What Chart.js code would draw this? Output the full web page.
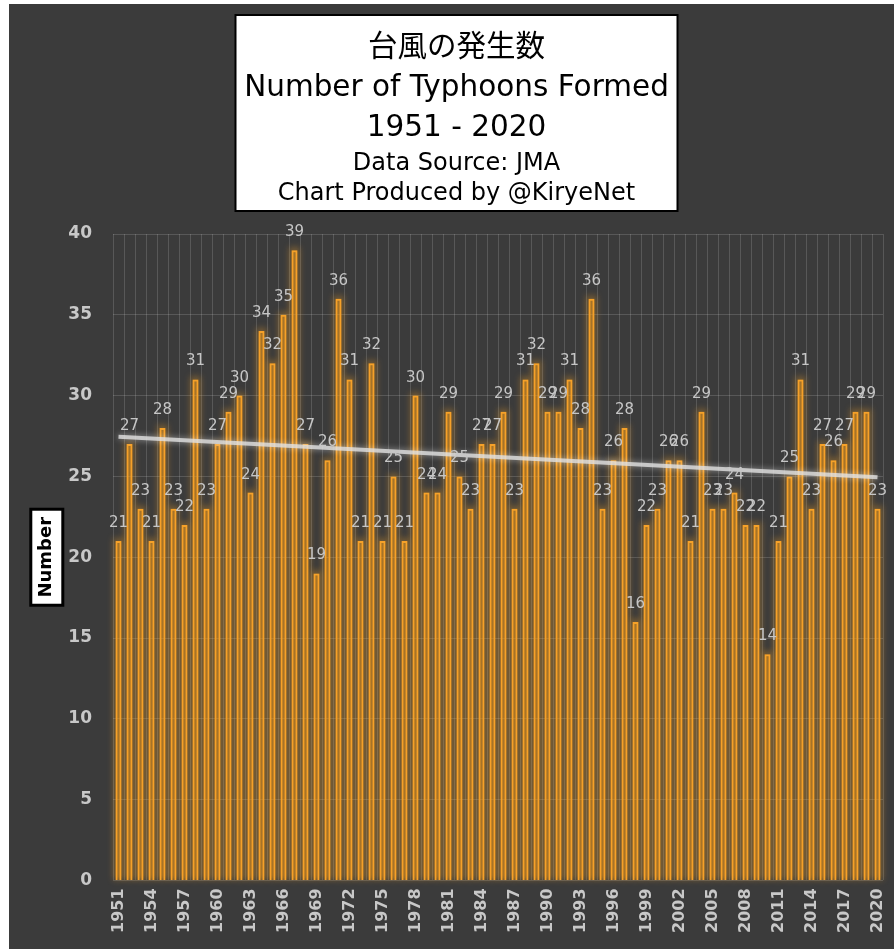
<!DOCTYPE html>
<html>
<head>
<meta charset="utf-8">
<script src="https://cdn.jsdelivr.net/npm/chart.js@4.4.1/dist/chart.umd.min.js"></script>
<style>
  html, body { margin: 0; padding: 0; background: #ffffff; }
  #wrap { position: absolute; left: 9px; top: 4px; width: 885px; height: 945px; background: #3b3b3b; }
  canvas { display: block; }
</style>
</head>
<body>
<div id="wrap"><canvas id="c" width="885" height="945"></canvas></div>
<script>
// ---- data ----
const years = [];
for (let y = 1951; y <= 2020; y++) years.push(String(y));
const typhoonCounts = [
  21, 27, 23, 21, 28, 23, 22, 31, 23, 27,
  29, 30, 24, 34, 32, 35, 39, 27, 19, 26,
  36, 31, 21, 32, 21, 25, 21, 30, 24, 24,
  29, 25, 23, 27, 27, 29, 23, 31, 32, 29,
  29, 31, 28, 36, 23, 26, 28, 16, 22, 23,
  26, 26, 21, 29, 23, 23, 24, 22, 22, 14,
  21, 25, 31, 23, 27, 26, 27, 29, 29, 23
];
// trend line end points (1951 and 2020)
const trendStart = 27.45;
const trendEnd = 24.95;
const trendValues = years.map((_, i) => i === 0 ? trendStart : (i === years.length - 1 ? trendEnd : null));
const yTicks = [0, 5, 10, 15, 20, 25, 30, 35, 40];
const titleLines = ['台風の発生数', 'Number of Typhoons Formed', '1951 - 2020'];
const subtitleLines = ['Data Source: JMA', 'Chart Produced by @KiryeNet'];
const yAxisTitle = 'Number';

const FONT = '"DejaVu Sans", "Noto Sans CJK JP", sans-serif';

const glowPlugin = {
  id: 'glow',
  beforeDatasetDraw(chart, args) {
    const ctx = chart.ctx;
    if (args.index === 0) {
      // soft orange glow behind each bar
      const meta = chart.getDatasetMeta(0);
      ctx.save();
      ctx.filter = 'blur(3px)';
      ctx.fillStyle = 'rgba(240,160,40,0.33)';
      meta.data.forEach(bar => {
        const w = bar.width + 5;
        ctx.fillRect(bar.x - w / 2, bar.y - 3, w, bar.base - bar.y + 3);
      });
      ctx.restore();
      ctx.save();
      ctx.shadowColor = 'rgba(255,160,20,0.6)';
      ctx.shadowBlur = 5;
    } else {
      ctx.save();
      ctx.shadowColor = 'rgba(255,255,255,0.6)';
      ctx.shadowBlur = 6;
    }
  },
  afterDatasetDraw(chart) {
    chart.ctx.restore();
  }
};

const boxesPlugin = {
  id: 'boxes',
  beforeDraw(chart) {
    const ctx = chart.ctx;
    ctx.save();
    const tb = chart.boxes.find(b => b.options && b.options.text === titleLines);
    const sb = chart.boxes.find(b => b.options && b.options.text === subtitleLines);
    const cx = tb ? tb.left + tb.width / 2 : chart.width / 2;
    const top = tb ? tb.top + 11 : 11;
    const bottom = sb ? sb.top + sb.height - 23 : 207;
    ctx.fillStyle = '#ffffff';
    ctx.fillRect(cx - 221, top, 442, bottom - top);
    ctx.strokeStyle = '#000000';
    ctx.lineWidth = 2;
    ctx.strokeRect(cx - 221, top, 442, bottom - top);
    // y axis title box
    const ys = chart.scales.y;
    const area = chart.chartArea;
    const tcx = ys.left + 6 + 10.8;
    const tcy = (area.top + area.bottom) / 2;
    ctx.fillRect(tcx - 16, tcy - 48, 32, 96);
    ctx.lineWidth = 3;
    ctx.strokeRect(tcx - 16, tcy - 48, 32, 96);
    ctx.restore();
  }
};

const labelsPlugin = {
  id: 'valueLabels',
  afterDatasetsDraw(chart) {
    const ctx = chart.ctx;
    const meta = chart.getDatasetMeta(0);
    ctx.save();
    ctx.font = '15px ' + FONT;
    ctx.fillStyle = '#c6c6c6';
    ctx.textAlign = 'center';
    ctx.textBaseline = 'alphabetic';
    meta.data.forEach((bar, i) => {
      ctx.fillText(String(typhoonCounts[i]), bar.x, bar.y - 14);
    });
    ctx.restore();
  }
};

new Chart(document.getElementById('c'), {
  data: {
    labels: years,
    datasets: [
      {
        type: 'bar',
        label: 'Typhoons',
        data: typhoonCounts,
        backgroundColor: 'rgba(235,155,40,0.12)',
        borderColor: '#f6a22a',
        borderWidth: 2,
        barPercentage: 0.55,
        categoryPercentage: 1.0,
        order: 2
      },
      {
        type: 'line',
        label: 'Trend',
        data: trendValues,
        spanGaps: true,
        borderColor: 'rgba(225,225,225,0.8)',
        borderWidth: 4,
        pointRadius: 0,
        fill: false,
        order: 1
      }
    ]
  },
  options: {
    responsive: false,
    animation: false,
    layout: { padding: { left: 21, right: 11, top: 0, bottom: 8 } },
    plugins: {
      legend: { display: false },
      tooltip: { enabled: false },
      title: {
        display: true,
        text: titleLines,
        color: '#000000',
        font: { family: FONT, size: 29.5, weight: 'normal', lineHeight: 40 / 29.5 },
        padding: { top: 24, bottom: 0 }
      },
      subtitle: {
        display: true,
        text: subtitleLines,
        color: '#000000',
        font: { family: FONT, size: 24, weight: 'normal', lineHeight: 30 / 24 },
        padding: { top: 1, bottom: 25 }
      }
    },
    scales: {
      x: {
        afterFit(scale) { scale.paddingLeft = 0; scale.paddingRight = 0; },
        grid: { color: 'rgba(255,255,255,0.15)', lineWidth: 1, drawTicks: false },
        border: { display: false },
        ticks: {
          color: '#c8c8c8',
          font: { family: FONT, size: 16, weight: 'bold' },
          minRotation: 90,
          maxRotation: 90,
          autoSkip: false,
          padding: 8,
          callback: function (val, idx) { return idx % 3 === 0 ? this.getLabelForValue(val) : ''; }
        }
      },
      y: {
        min: 0,
        max: 40,
        afterBuildTicks(scale) { scale.ticks = yTicks.map(v => ({ value: v })); },
        afterFit(scale) { scale.width = 83; },
        grid: { color: 'rgba(255,255,255,0.15)', lineWidth: 1, drawTicks: false },
        border: { display: false },
        ticks: {
          color: '#c8c8c8',
          font: { family: FONT, size: 17, weight: 'bold' },
          padding: 21
        },
        title: {
          display: true,
          text: yAxisTitle,
          color: '#000000',
          font: { family: FONT, size: 18, weight: 'bold' },
          padding: { top: 6, bottom: 4 }
        }
      }
    }
  },
  plugins: [boxesPlugin, glowPlugin, labelsPlugin]
});
</script>
</body>
</html>
